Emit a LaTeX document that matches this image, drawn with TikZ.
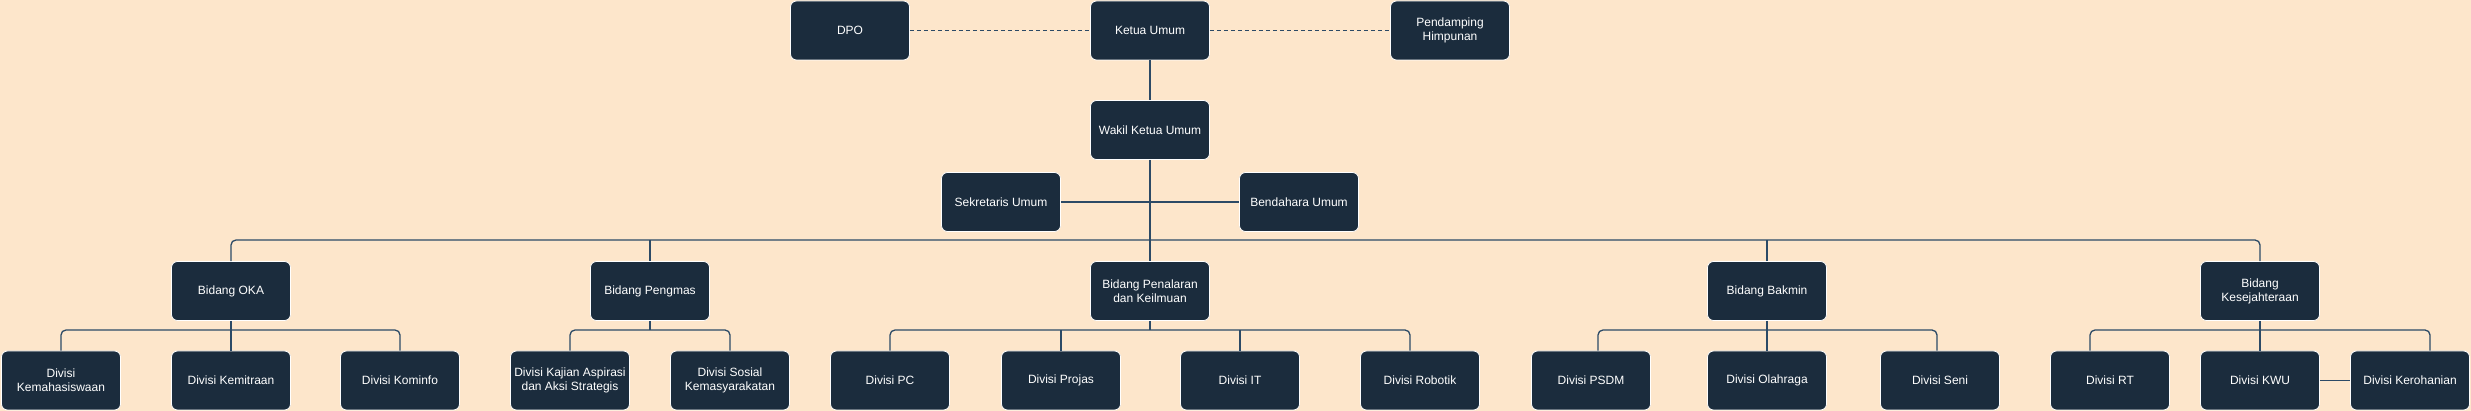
\documentclass[tikz,border=0pt]{standalone}
\usepackage{fontspec}
\setmainfont{Liberation Sans}
\definecolor{bgc}{HTML}{FDE6CB}
\definecolor{boxc}{HTML}{1B2C3D}
\definecolor{linec}{HTML}{2C4A66}
\begin{document}
\begin{tikzpicture}[x=1pt,y=-1pt,
  box/.style={draw=white,line width=0.8pt,fill=boxc,rounded corners=6pt,
    minimum width=119pt,minimum height=59pt,inner sep=0pt,align=center,
    text=white,font=\fontsize{12pt}{14pt}\selectfont},
  conn/.style={draw=linec,line width=1.3pt},
  busline/.style={conn,rounded corners=5pt},
  dashline/.style={conn,dash pattern=on 4pt off 3pt}]
\fill[bgc] (0,0) rectangle (2471,411);
\useasboundingbox (0,0) rectangle (2471,411);
% top
\node[box] (dpo) at (850,30.5) {DPO};
\node[box] (ketua) at (1150,30.5) {Ketua Umum};
\node[box] (pend) at (1450,30.5) {Pendamping\\Himpunan};
\node[box] (wakil) at (1150,130) {Wakil Ketua Umum};
\node[box] (sekr) at (1001,202) {Sekretaris Umum};
\node[box] (bend) at (1299,202) {Bendahara Umum};
% bidang
\node[box] (oka) at (231,291) {Bidang OKA};
\node[box] (pengmas) at (650,291) {Bidang Pengmas};
\node[box] (penalaran) at (1150,291) {Bidang Penalaran\\dan Keilmuan};
\node[box] (bakmin) at (1767,291) {Bidang Bakmin};
\node[box] (kesej) at (2260,291) {Bidang\\Kesejahteraan};
% divisi
\node[box] (kemahasiswaan) at (61,380.5) {Divisi\\Kemahasiswaan};
\node[box] (kemitraan) at (231,380.5) {Divisi Kemitraan};
\node[box] (kominfo) at (400,380.5) {Divisi Kominfo};
\node[box] (kajian) at (570,380.5) {Divisi Kajian Aspirasi\\dan Aksi Strategis};
\node[box] (sosial) at (730,380.5) {Divisi Sosial\\Kemasyarakatan};
\node[box] (pc) at (890,380.5) {Divisi PC};
\node[box] (projas) at (1061,380.5) {Divisi Projas};
\node[box] (it) at (1240,380.5) {Divisi IT};
\node[box] (robotik) at (1420,380.5) {Divisi Robotik};
\node[box] (psdm) at (1591,380.5) {Divisi PSDM};
\node[box] (olahraga) at (1767,380.5) {Divisi Olahraga};
\node[box] (seni) at (1940,380.5) {Divisi Seni};
\node[box] (rt) at (2110,380.5) {Divisi RT};
\node[box] (kwu) at (2260,380.5) {Divisi KWU};
\node[box] (kerohanian) at (2410,380.5) {Divisi Kerohanian};
% connectors
\begin{scope}[on background layer/.style={}]
\end{scope}
\path[dashline] (dpo.east) -- (ketua.west);
\path[dashline] (ketua.east) -- (pend.west);
\path[conn] (ketua.south) -- (wakil.north);
\path[conn] (wakil.south) -- (penalaran.north);
\path[conn] (sekr.east) -- (bend.west);
% main bus
\path[busline] (oka.north) -- (oka.north |- 0,240) -- (kesej.north |- 0,240) -- (kesej.north);
\path[conn] (pengmas.north) -- (pengmas.north |- 0,240);
\path[conn] (bakmin.north) -- (bakmin.north |- 0,240);
% OKA
\path[busline] (kemahasiswaan.north) -- (kemahasiswaan.north |- 0,330) -- (kominfo.north |- 0,330) -- (kominfo.north);
\path[conn] (oka.south) -- (kemitraan.north);
% Pengmas
\path[busline] (kajian.north) -- (kajian.north |- 0,330) -- (sosial.north |- 0,330) -- (sosial.north);
\path[conn] (pengmas.south) -- (pengmas.south |- 0,330);
% Penalaran
\path[busline] (pc.north) -- (pc.north |- 0,330) -- ([xshift=-10pt]robotik.north |- 0,330) -- ([xshift=-10pt]robotik.north);
\path[conn] (penalaran.south) -- (penalaran.south |- 0,330);
\path[conn] (projas.north) -- (projas.north |- 0,330);
\path[conn] (it.north) -- (it.north |- 0,330);
% Bakmin
\path[busline] ([xshift=7pt]psdm.north) -- ([xshift=7pt]psdm.north |- 0,330) -- ([xshift=-3pt]seni.north |- 0,330) -- ([xshift=-3pt]seni.north);
\path[conn] (bakmin.south) -- (olahraga.north);
% Kesejahteraan
\path[busline] ([xshift=-20pt]rt.north) -- ([xshift=-20pt]rt.north |- 0,330) -- ([xshift=20pt]kerohanian.north |- 0,330) -- ([xshift=20pt]kerohanian.north);
\path[conn] (kesej.south) -- (kwu.north);
\path[conn] (kwu.east) -- (kerohanian.west);
\end{tikzpicture}
\end{document}
